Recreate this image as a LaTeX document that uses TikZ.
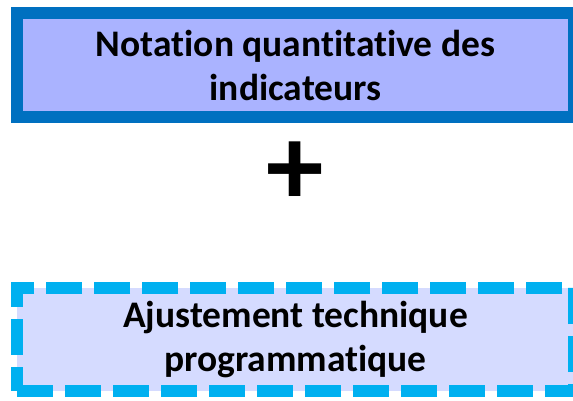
\documentclass[tikz,border=0pt]{standalone}
\usepackage{fontspec}
\setmainfont[Ligatures=CommonOff]{Carlito}
\usepackage{tikz}

\definecolor{notationblue}{RGB}{0,112,192}
\definecolor{notationfill}{RGB}{170,179,255}
\definecolor{ajustblue}{RGB}{0,176,240}
\definecolor{ajustfill}{RGB}{213,219,255}

\begin{document}
\begin{tikzpicture}[x=1pt, y=-1pt,
    boxtext/.style={align=center, inner sep=0pt, font=\bfseries\fontsize{37.5}{44}\selectfont},
    notationbox/.style={boxtext, draw=notationblue, fill=notationfill, line width=12pt,
        minimum width=557pt, minimum height=104pt},
    ajustbox/.style={boxtext, draw=ajustblue, fill=ajustfill, line width=12pt,
        dash pattern=on 36pt off 12pt, minimum width=557pt, minimum height=103pt}]
    \useasboundingbox (0,0) rectangle (573,400);

    \node[notationbox] (notation) at (295.5,65) {Notation quantitative des\\indicateurs};
    \node[font=\bfseries\fontsize{115}{115}\selectfont, inner sep=0pt] (plus) at (295,174) {+};
    \node[ajustbox] (ajustement) at (295.5,339.5) {Ajustement technique\\programmatique};
\end{tikzpicture}
\end{document}
